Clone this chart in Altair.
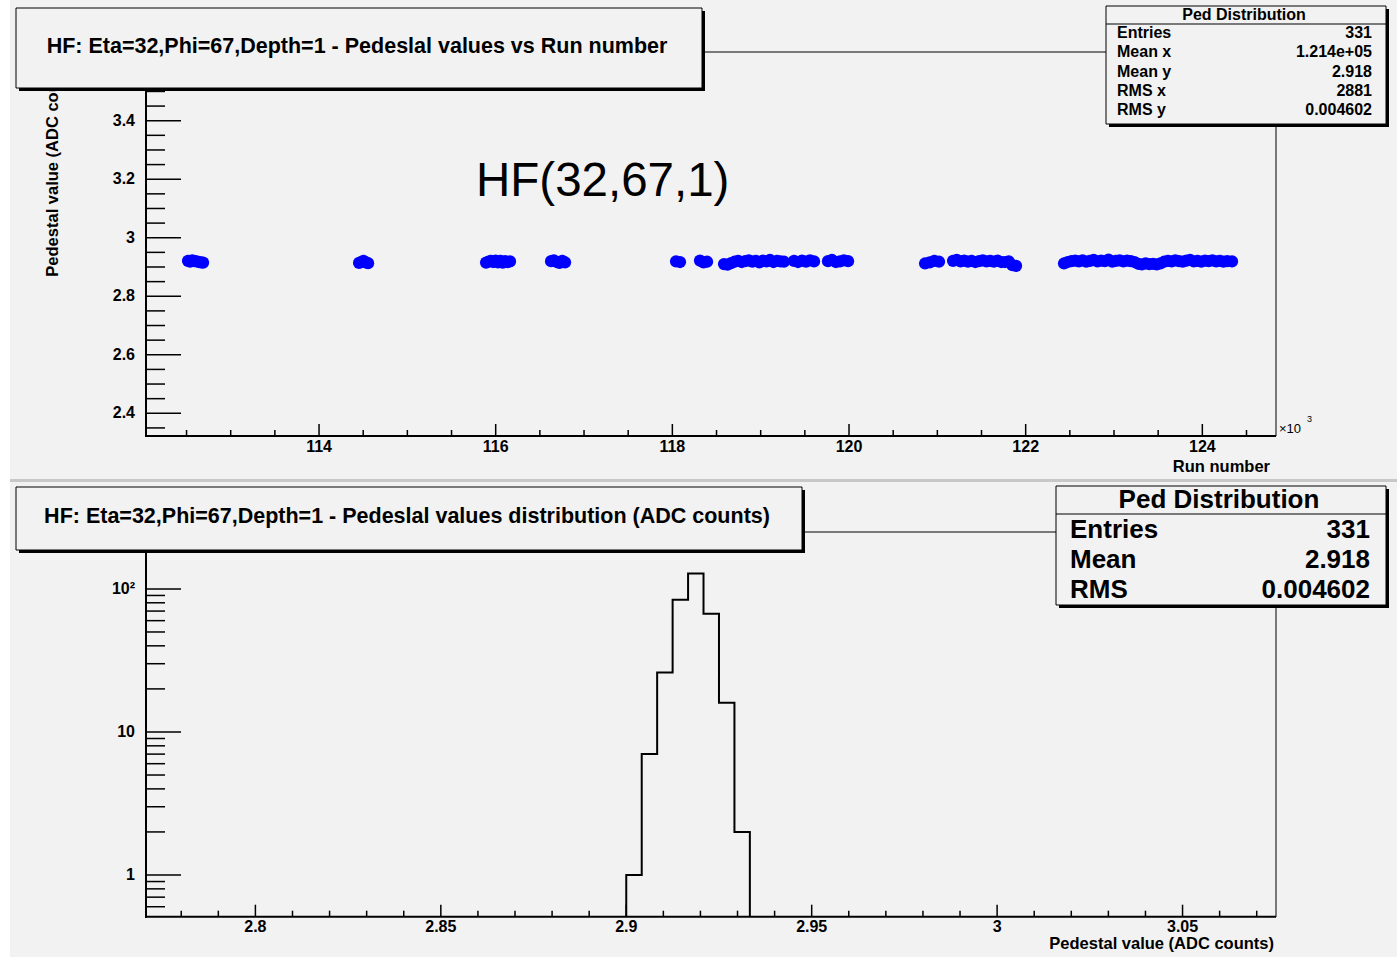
import altair as alt
import pandas as pd

# ---------------- data ----------------
# Pedestal value vs run number (top panel)
runs = [
    112517, 112540, 112565, 112590, 112615, 112640, 112665, 112687,
    114453, 114478, 114503, 114530, 114555,
    115891, 115918, 115945, 115972, 115999, 116026, 116053, 116080, 116107, 116134, 116162,
    116627, 116659, 116691, 116722, 116754, 116785,
    118042, 118087,
    118313, 118353, 118393,
    118585, 118625, 118665, 118705, 118745, 118785, 118825, 118865, 118905, 118945,
    118985, 119025, 119065, 119105, 119145, 119185, 119225, 119264,
    119378, 119423, 119468, 119513, 119558, 119604,
    119762, 119807, 119852, 119897, 119942, 119989,
    120861, 120914, 120966, 121019,
    121178, 121220, 121262, 121304, 121346, 121388, 121430, 121472, 121514, 121556,
    121598, 121640, 121682, 121724, 121766, 121808, 121850, 121891,
    122434, 122476, 122518, 122560, 122602, 122644, 122686, 122728, 122770, 122812,
    122854, 122896, 122938, 122980, 123022, 123064, 123106, 123148, 123190, 123232,
    123274, 123316, 123358, 123400, 123442, 123484, 123526, 123568, 123610, 123652,
    123694, 123736, 123778, 123820, 123862, 123904, 123946, 123988, 124030, 124072,
    124114, 124156, 124198, 124240, 124282, 124336,
]
peds = [
    2.921, 2.918, 2.923, 2.920, 2.919, 2.917, 2.916, 2.915,
    2.914, 2.917, 2.921, 2.916, 2.913,
    2.915, 2.918, 2.921, 2.917, 2.922, 2.916, 2.921, 2.915, 2.920, 2.917, 2.919,
    2.920, 2.923, 2.917, 2.914, 2.921, 2.916,
    2.919, 2.917,
    2.922, 2.916, 2.918,
    2.910, 2.908, 2.913, 2.918, 2.921, 2.917, 2.920, 2.923, 2.918, 2.921,
    2.916, 2.922, 2.919, 2.924, 2.917, 2.921, 2.919, 2.918,
    2.921, 2.917, 2.922, 2.918, 2.923, 2.919,
    2.920, 2.924, 2.917, 2.919, 2.923, 2.920,
    2.912, 2.916, 2.921, 2.918,
    2.921, 2.924, 2.919, 2.922, 2.918, 2.921, 2.917, 2.920, 2.923, 2.919,
    2.921, 2.918, 2.922, 2.917, 2.917, 2.919, 2.906, 2.904,
    2.912, 2.917, 2.920, 2.922, 2.919, 2.923, 2.918, 2.921, 2.924, 2.919,
    2.922, 2.920, 2.925, 2.918, 2.921, 2.923, 2.919, 2.922, 2.920, 2.917,
    2.911, 2.909, 2.912, 2.910, 2.911, 2.909, 2.912, 2.918, 2.921, 2.919,
    2.923, 2.920, 2.918, 2.922, 2.924, 2.919, 2.921, 2.918, 2.922, 2.920,
    2.923, 2.919, 2.921, 2.918, 2.920, 2.919,
]

# Pedestal distribution histogram (bottom panel)
hist_edges = [2.9, 2.90417, 2.90833, 2.9125, 2.91667, 2.92083, 2.925, 2.92917, 2.93333]
hist_counts = [1, 7, 26, 84, 128, 67, 16, 2]

# tick labels
top_y_major = [2.4, 2.6, 2.8, 3.0, 3.2, 3.4]
top_y_labels = ["2.4", "2.6", "2.8", "3", "3.2", "3.4"]
top_x_major = [114000, 116000, 118000, 120000, 122000, 124000]
top_x_labels = ["114", "116", "118", "120", "122", "124"]
bot_x_major = [2.8, 2.85, 2.9, 2.95, 3.0, 3.05]
bot_x_labels = ["2.8", "2.85", "2.9", "2.95", "3", "3.05"]
bot_y_major = [1, 10, 100]
bot_y_labels = ["1", "10", "10²"]

top_title = "HF: Eta=32,Phi=67,Depth=1 - Pedeslal values vs Run number"
bot_title = "HF: Eta=32,Phi=67,Depth=1 - Pedeslal values distribution (ADC counts)"
stats_top_names = ["Entries", "Mean x", "Mean y", "RMS x", "RMS y"]
stats_top_values = ["331", "1.214e+05", "2.918", "2881", "0.004602"]
stats_bot_names = ["Entries", "Mean", "RMS"]
stats_bot_values = ["331", "2.918", "0.004602"]

# ---------------- styling / layout ----------------
BG = "#f2f2f2"
FONT = "Liberation Sans"
W, H = 1397, 960
one = pd.DataFrame({"d": [0]})

# minor tick positions
top_y_minor = [round(2.35 + 0.05 * i, 3) for i in range(26)]
top_y_minor = [v for v in top_y_minor if all(abs(v - m) > 1e-6 for m in top_y_major)]
top_x_minor = [112500 + 500 * i for i in range(25)]
top_x_minor = [v for v in top_x_minor if v not in top_x_major]
bot_x_minor = [round(2.78 + 0.01 * i, 3) for i in range(30)]
bot_x_minor = [v for v in bot_x_minor if all(abs(v - m) > 1e-6 for m in bot_x_major)]
bot_y_minor = [0.6, 0.7, 0.8, 0.9] + [float(k) for k in range(2, 10)] + [10.0 * k for k in range(2, 10)] + [200.0]

TX = alt.Scale(domain=[112041, 124834], range=[146, 1276], nice=False, zero=False)
TY = alt.Scale(domain=[2.3224, 3.6348], range=[436, 52], nice=False, zero=False)
BX = alt.Scale(domain=[2.7705, 3.0752], range=[146, 1276], nice=False, zero=False)
BASE = 0.511
BY = alt.Scale(type="log", domain=[BASE, 250], range=[916.7, 532], nice=False)


def rect(x, x2, y, y2, fill, stroke=None, sw=1):
    kw = dict(fill=fill)
    if stroke:
        kw.update(stroke=stroke, strokeWidth=sw)
    return alt.Chart(one).mark_rect(**kw).encode(
        x=alt.value(x), x2=alt.value(x2), y=alt.value(y), y2=alt.value(y2))


def hline(x, x2, y, sw=1, color="black"):
    return alt.Chart(one).mark_rule(color=color, strokeWidth=sw).encode(
        x=alt.value(x), x2=alt.value(x2), y=alt.value(y))


def vline(x, y, y2, sw=1, color="black"):
    return alt.Chart(one).mark_rule(color=color, strokeWidth=sw).encode(
        x=alt.value(x), y=alt.value(y), y2=alt.value(y2))


def label(txt, x, y, size, align="left", weight="bold", angle=0, font=FONT):
    return alt.Chart(one).mark_text(
        text=txt, fontSize=size, fontWeight=weight, align=align, baseline="middle",
        font=font, angle=angle, color="black").encode(x=alt.value(x), y=alt.value(y))


def box(x, x2, y, y2, shadow=3):
    return [rect(x + shadow, x2 + shadow, y + shadow, y2 + shadow, "black"),
            rect(x, x2, y, y2, BG, stroke="black", sw=1)]


def yticks(vals, scale, length, sw=1.5):
    return alt.Chart(pd.DataFrame({"v": vals})).mark_rule(color="black", strokeWidth=sw).encode(
        y=alt.Y("v:Q", scale=scale, axis=None), x=alt.value(146), x2=alt.value(146 + length))


def xticks(vals, scale, ybase, length, sw=1.5):
    return alt.Chart(pd.DataFrame({"v": vals})).mark_rule(color="black", strokeWidth=sw).encode(
        x=alt.X("v:Q", scale=scale, axis=None), y=alt.value(ybase - length), y2=alt.value(ybase))


def ylabels(vals, labs, scale, size=16):
    return alt.Chart(pd.DataFrame({"v": vals, "t": labs})).mark_text(
        fontSize=size, fontWeight="bold", font=FONT, align="right", baseline="middle", color="black"
    ).encode(y=alt.Y("v:Q", scale=scale, axis=None), x=alt.value(135), text="t:N")


def xlabels(vals, labs, scale, ypos, size=16):
    return alt.Chart(pd.DataFrame({"v": vals, "t": labs})).mark_text(
        fontSize=size, fontWeight="bold", font=FONT, align="center", baseline="middle", color="black"
    ).encode(x=alt.X("v:Q", scale=scale, axis=None), y=alt.value(ypos), text="t:N")


def stats_rows(names, values, xl, xr, y0, dy, size):
    n = min(len(names), len(values))
    df = pd.DataFrame({"name": names[:n], "val": values[:n], "py": [y0 + dy * i for i in range(n)]})
    base = alt.Chart(df).encode(y=alt.Y("py:Q", scale=None, axis=None))
    left = base.mark_text(fontSize=size, fontWeight="bold", font=FONT, align="left",
                          baseline="middle", color="black").encode(x=alt.value(xl), text="name:N")
    right = base.mark_text(fontSize=size, fontWeight="bold", font=FONT, align="right",
                           baseline="middle", color="black").encode(x=alt.value(xr), text="val:N")
    return [left, right]


# ---------------- top panel ----------------
scat_df = pd.DataFrame(list(zip(runs, peds)), columns=["run", "ped"])
points = alt.Chart(scat_df).mark_point(
    shape="circle", filled=True, color="#0000ff", size=150, opacity=1).encode(
    x=alt.X("run:Q", scale=TX, axis=None), y=alt.Y("ped:Q", scale=TY, axis=None))

top_panel = alt.layer(
    yticks(top_y_minor, TY, 19), yticks(top_y_major, TY, 35),
    xticks(top_x_minor, TX, 436, 6), xticks(top_x_major, TX, 436, 12),
    ylabels(top_y_major, top_y_labels, TY), xlabels(top_x_major, top_x_labels, TX, 447),
    points,
)

# ---------------- bottom panel ----------------
hx = [hist_edges[0]] + hist_edges[:-1] + [hist_edges[-1]]
hy = [BASE] + hist_counts + [BASE]
hist_df = pd.DataFrame({"x": hx, "y": hy, "o": list(range(len(hx)))})
hist = alt.Chart(hist_df).mark_line(color="black", strokeWidth=2, interpolate="step-after").encode(
    x=alt.X("x:Q", scale=BX, axis=None), y=alt.Y("y:Q", scale=BY, axis=None), order="o:Q")

bottom_panel = alt.layer(
    yticks(bot_y_minor, BY, 19), yticks(bot_y_major, BY, 35),
    xticks(bot_x_minor, BX, 916.7, 6), xticks(bot_x_major, BX, 916.7, 12),
    ylabels(bot_y_major, bot_y_labels, BY), xlabels(bot_x_major, bot_x_labels, BX, 927),
    hist,
)

# ---------------- decorations ----------------
layers = [
    rect(0, 10, 0, H, "white"),
    rect(0, W, 957, H, "white"),
    hline(10, W, 480.5, sw=3, color="#c8c8c8"),
    # top frame
    hline(146, 1276, 52, sw=1), vline(1276, 52, 436, sw=1),
    vline(146, 52, 437, sw=2), hline(146, 1276, 436, sw=2),
    # bottom frame
    hline(146, 1276, 532, sw=1), vline(1276, 532, 917, sw=1),
    vline(146, 532, 918, sw=2), hline(146, 1276, 916.7, sw=2),
    top_panel,
    bottom_panel,
    # axis titles
    label("Pedestal value (ADC counts)", 53, 52, 16.5, align="right", angle=270),
    label("Run number", 1270, 467, 16.5, align="right"),
    label("×10", 1279, 429, 13, align="left", weight="normal"),
    label("3", 1307, 419, 9, align="left", weight="normal"),
    label("Pedestal value (ADC counts)", 1274, 944, 16.5, align="right"),
    label("HF(32,67,1)", 476, 182, 47.5, align="left", weight="normal"),
]
# title boxes
layers += box(16, 702, 8, 88) + [label(top_title, 357, 47, 21.5, align="center")]
layers += box(16, 802, 487, 550) + [label(bot_title, 407, 517, 21.5, align="center")]
# stats boxes
layers += box(1106, 1386, 6, 124) + [hline(1106, 1386, 24, sw=1),
                                      label("Ped Distribution", 1244, 15, 16, align="center")]
layers += stats_rows(stats_top_names, stats_top_values, 1117, 1372, 33, 19.3, 16)
layers += box(1056, 1386, 486, 605) + [hline(1056, 1386, 514, sw=1),
                                       label("Ped Distribution", 1219, 500, 26, align="center")]
layers += stats_rows(stats_bot_names, stats_bot_values, 1070, 1370, 530, 30, 26)

chart = alt.layer(*layers).resolve_scale(x="independent", y="independent").properties(
    width=W, height=H, autosize=alt.AutoSizeParams(type="none"), padding=0,
    background=BG,
).configure_view(stroke=None)

chart.save("out.html", embed_options={"renderer": "svg", "actions": False})
